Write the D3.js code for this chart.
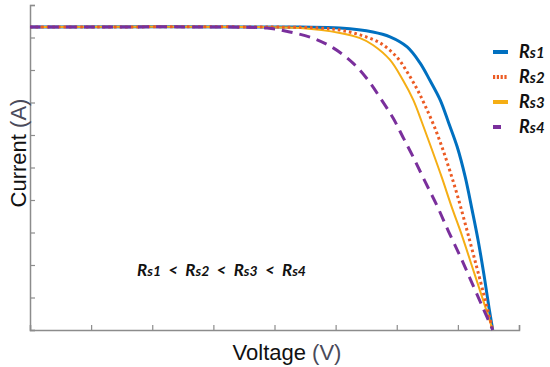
<!DOCTYPE html>
<html lang="en">
  <head>
    <meta charset="UTF-8" />
    <title>I-V curves</title>
    <script src="https://d3js.org/d3.v7.min.js"></script>
    <style>
      body { margin: 0; background: #fff; }
      svg { display: block; }
    </style>
  </head>
  <body>
    <svg></svg>
    <script>
      // data (voltage, current)
      let rs1V = [0, 4.42, 5.07, 5.61, 5.89, 6.17, 6.38, 6.54, 6.71, 6.85, 6.99, 7.12, 7.23, 7.33, 7.43, 7.51, 7.57];
      let rs1I = [9.32, 9.32, 9.29, 9.17, 9.02, 8.71, 8.22, 7.69, 7.08, 6.37, 5.63, 4.71, 3.72, 2.77, 1.66, 0.68, 0];
      let rs2V = [0, 4.09, 4.74, 5.07, 5.4, 5.73, 6.0, 6.17, 6.33, 6.46, 6.61, 6.74, 6.87, 7.0, 7.13, 7.26, 7.41, 7.57];
      let rs2I = [9.32, 9.32, 9.29, 9.23, 9.08, 8.83, 8.4, 7.94, 7.42, 6.92, 6.28, 5.63, 4.89, 4.09, 3.2, 2.28, 1.2, 0];
      let rs3V = [0, 3.76, 4.42, 5.07, 5.4, 5.61, 5.89, 6.1, 6.27, 6.41, 6.56, 6.74, 6.9, 7.07, 7.23, 7.39, 7.57];
      let rs3I = [9.32, 9.32, 9.29, 9.14, 8.98, 8.77, 8.31, 7.69, 7.08, 6.4, 5.63, 4.68, 3.78, 2.89, 1.97, 1.05, 0];
      let rs4V = [0, 3.27, 3.88, 4.25, 4.63, 4.96, 5.28, 5.53, 5.73, 5.94, 6.1, 6.27, 6.46, 6.66, 6.85, 7.05, 7.23, 7.41, 7.57];
      let rs4I = [9.32, 9.32, 9.29, 9.17, 8.98, 8.68, 8.22, 7.69, 7.14, 6.52, 5.94, 5.32, 4.58, 3.82, 3.02, 2.22, 1.45, 0.68, 0];

      let seriesNames = ["1", "2", "3", "4"];
      let xTicks = [0, 1, 2, 3, 4, 5, 6, 7, 8];
      let yTicks = [0, 1, 2, 3, 4, 5, 6, 7, 8, 9, 10];

      let width = 550,
        height = 367;
      let margin = { top: 5, right: 31, bottom: 37, left: 30 };

      let svg = d3.select("svg").attr("width", width).attr("height", height);

      let x = d3.scaleLinear().domain([0, 8]).range([margin.left, width - margin.right]);
      let y = d3.scaleLinear().domain([0, 10]).range([height - margin.bottom, margin.top]);

      let axisColor = "#8c8c8c";

      // axes with inward ticks, no labels
      let xAxis = svg
        .append("g")
        .attr("transform", "translate(0," + y(0) + ")")
        .call(d3.axisTop(x).tickValues(xTicks).tickSize(5).tickFormat(""));
      let yAxis = svg
        .append("g")
        .attr("transform", "translate(" + x(0) + ",0)")
        .call(d3.axisRight(y).tickValues(yTicks).tickSize(5).tickFormat(""));
      [xAxis, yAxis].forEach((a) => {
        a.select(".domain").attr("stroke", axisColor).attr("stroke-width", 1.5);
        a.selectAll(".tick line").attr("stroke", axisColor).attr("stroke-width", 1.2);
      });

      let series = [
        { name: "1", v: rs1V, i: rs1I, color: "#0070c0", w: 3, dash: null, key: null },
        { name: "2", v: rs2V, i: rs2I, color: "#ec5b24", w: 3, dash: "2.6,3", key: "2.2,1.6" },
        { name: "3", v: rs3V, i: rs3I, color: "#f5ae14", w: 2, dash: null, key: null },
        { name: "4", v: rs4V, i: rs4I, color: "#7a2f9c", w: 3, dash: "11,7", key: "8,20" },
      ];

      let line = d3
        .line()
        .x((d) => x(d[0]))
        .y((d) => y(d[1]))
        .curve(d3.curveCatmullRom.alpha(0.5));

      // blue first, purple last (purple dashes show on the shared flat part)
      let drawOrder = [series[0], series[2], series[1], series[3]];
      svg
        .append("g")
        .selectAll("path")
        .data(drawOrder)
        .enter()
        .append("path")
        .attr("fill", "none")
        .attr("stroke", (d) => d.color)
        .attr("stroke-width", (d) => d.w)
        .attr("stroke-dasharray", (d) => d.dash)
        .attr("d", (d) => line(d.v.map((v, k) => [v, d.i[k]])));

      // legend
      let legend = svg
        .append("g")
        .selectAll("g")
        .data(series)
        .enter()
        .append("g")
        .attr("transform", (d, k) => "translate(493," + (52 + k * 25) + ")");
      legend
        .append("line")
        .attr("x1", 0)
        .attr("x2", 15)
        .attr("stroke", (d) => d.color)
        .attr("stroke-width", 4)
        .attr("stroke-dasharray", (d) => d.key);
      let lt = legend
        .append("text")
        .attr("x", 26)
        .attr("y", 6)
        .attr("font-family", "Lato, 'Open Sans', sans-serif")
        .attr("font-weight", "bold")
        .attr("font-style", "italic")
        .attr("font-size", 18)
        .attr("fill", "#111");
      lt.append("tspan").text("R");
      lt.append("tspan").attr("font-size", 15).text((d) => "s" + d.name);

      // annotation
      let note = svg
        .append("text")
        .attr("x", 137)
        .attr("y", 276)
        .attr("font-family", "Lato, 'Open Sans', sans-serif")
        .attr("font-weight", "bold")
        .attr("font-style", "italic")
        .attr("font-size", 17)
        .attr("word-spacing", 3.5)
        .attr("fill", "#111");
      seriesNames.forEach((n, k) => {
        note.append("tspan").text("R");
        note.append("tspan").attr("font-size", 14).text("s" + n);
        if (k < seriesNames.length - 1) note.append("tspan").text(" < ");
      });

      // axis titles
      let xt = svg
        .append("text")
        .attr("x", 287)
        .attr("y", 360)
        .attr("text-anchor", "middle")
        .attr("font-family", "'Liberation Sans', Arial, sans-serif")
        .attr("font-size", 22)
        .attr("fill", "#111");
      xt.append("tspan").text("Voltage ");
      xt.append("tspan").attr("fill", "#4a4a5a").text("(V)");

      let yt = svg
        .append("text")
        .attr("transform", "translate(26,153) rotate(-90)")
        .attr("text-anchor", "middle")
        .attr("font-family", "'Liberation Sans', Arial, sans-serif")
        .attr("font-size", 22)
        .attr("fill", "#111");
      yt.append("tspan").text("Current ");
      yt.append("tspan").attr("fill", "#4a4a5a").text("(A)");
    </script>
  </body>
</html>
